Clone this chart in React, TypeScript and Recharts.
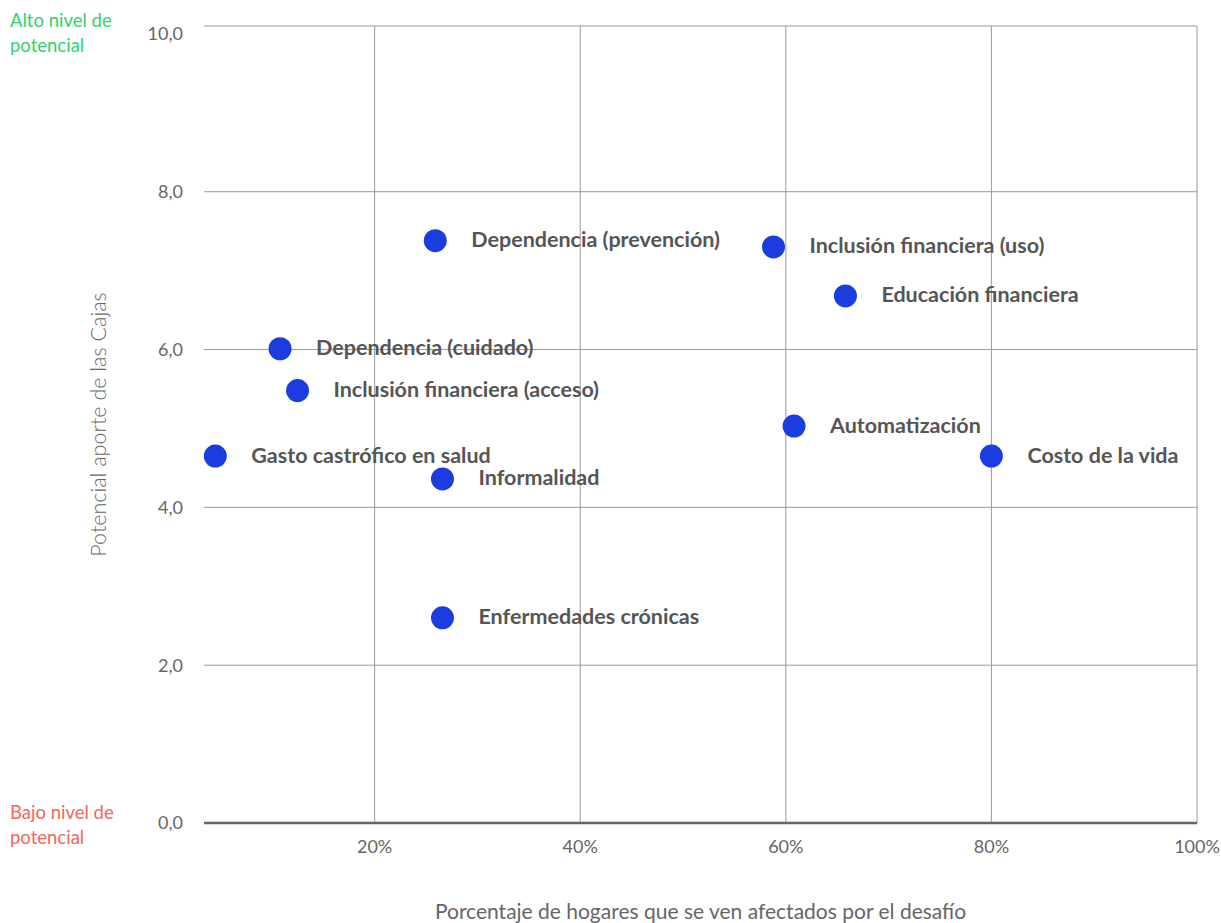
import React from 'react';
import { ScatterChart, Scatter, XAxis, YAxis, CartesianGrid, Label } from 'recharts';

const names = [
  'Gasto castrófico en salud',
  'Dependencia (cuidado)',
  'Inclusión financiera (acceso)',
  'Dependencia (prevención)',
  'Informalidad',
  'Enfermedades crónicas',
  'Inclusión financiera (uso)',
  'Educación financiera',
  'Automatización',
  'Costo de la vida',
];
const xValues = [4.5, 10.8, 12.5, 25.9, 26.6, 26.6, 58.8, 65.8, 60.8, 80.0];
const yValues = [4.65, 6.01, 5.48, 7.38, 4.36, 2.6, 7.3, 6.68, 5.03, 4.65];
const xTicks = [20, 40, 60, 80, 100];
const yTicks = [0, 2, 4, 6, 8, 10];
const yGridTicks = [0, 2, 4, 6, 8];
const xDomain = [3.4, 100];
const yDomain = [0, 10.1];

const xTitle = 'Porcentaje de hogares que se ven afectados por el desafío';
const yTitle = 'Potencial aporte de las Cajas';
const highLabel = ['Alto nivel de', 'potencial'];
const lowLabel = ['Bajo nivel de', 'potencial'];

const data = names.map((name, i) => ({ name, x: xValues[i], y: yValues[i] }));

const FONT = 'Lato, "Open Sans", sans-serif';

const Dot = (props: any) => {
  const { cx, cy, payload } = props;
  return (
    <g>
      <circle cx={cx} cy={cy} r={11.5} fill="#1b3de0" />
      <text
        x={cx + 36}
        y={cy}
        dy="0.3em"
        fontSize={21.5}
        fontWeight={700}
        fill="#555555"
        fontFamily={FONT}
      >
        {payload.name}
      </text>
    </g>
  );
};

const YTitle = (props: any) => {
  const vb = props.viewBox || { x: 0, y: 0, width: 204, height: 800 };
  const cx = vb.x + 98;
  const cy = vb.y + vb.height / 2;
  return (
    <text
      x={cx}
      y={cy}
      transform={`rotate(-90 ${cx} ${cy})`}
      textAnchor="middle"
      dominantBaseline="central"
      fontSize={21.5}
      fill="#666666"
      fontFamily={FONT}
      fontWeight={300}
    >
      {yTitle}
    </text>
  );
};

const verticalGen = (props: any) => {
  const { xAxis, offset } = props;
  if (xAxis && typeof xAxis.scale === 'function') {
    return xTicks.map((t) => xAxis.scale(t));
  }
  return xTicks.map(
    (t) => offset.left + ((t - xDomain[0]) / (xDomain[1] - xDomain[0])) * offset.width
  );
};

const horizontalGen = (props: any) => {
  const { yAxis, offset } = props;
  let pts: number[];
  if (yAxis && typeof yAxis.scale === 'function') {
    pts = yGridTicks.map((t) => yAxis.scale(t));
  } else {
    pts = yGridTicks.map(
      (t) => offset.top + (1 - (t - yDomain[0]) / (yDomain[1] - yDomain[0])) * offset.height
    );
  }
  return [offset.top, ...pts];
};

export default function App() {
  return (
    <div style={{ position: 'absolute', left: 0, top: 0, width: 1221, height: 923, background: '#fff', fontFamily: FONT }}>
      <div style={{ position: 'absolute', left: 10, top: 8, color: '#2fd36b', fontSize: 18.5, lineHeight: '25px' }}>
        {highLabel.map((t) => (
          <div key={t}>{t}</div>
        ))}
      </div>
      <div style={{ position: 'absolute', left: 10, top: 800, color: '#f4655b', fontSize: 18.5, lineHeight: '25px' }}>
        {lowLabel.map((t) => (
          <div key={t}>{t}</div>
        ))}
      </div>
      <ScatterChart width={1221} height={923} margin={{ top: 26, right: 24, left: 0, bottom: 0 }}>
        <CartesianGrid
          stroke="#9a9a9a"
          strokeWidth={1}
          verticalCoordinatesGenerator={verticalGen}
          horizontalCoordinatesGenerator={horizontalGen}
        />
        <XAxis
          type="number"
          dataKey="x"
          domain={xDomain}
          ticks={xTicks}
          allowDataOverflow
          height={100}
          tickFormatter={(v: number) => `${v}%`}
          tick={{ fill: '#666666', fontSize: 18, fontFamily: FONT }}
          tickLine={false}
          tickSize={6}
          tickMargin={11}
          axisLine={{ stroke: '#666666', strokeWidth: 2.5 }}
        >
          <Label
            value={xTitle}
            position="insideBottom"
            offset={4}
            style={{ fill: '#666666', fontSize: 21, fontFamily: FONT }}
          />
        </XAxis>
        <YAxis
          type="number"
          dataKey="y"
          domain={yDomain}
          ticks={yTicks}
          allowDataOverflow
          width={204}
          tickFormatter={(v: number) => v.toFixed(1).replace('.', ',')}
          tick={{ fill: '#666666', fontSize: 18, fontFamily: FONT }}
          tickLine={false}
          tickSize={6}
          tickMargin={15}
          axisLine={false}
        >
          <Label content={<YTitle />} />
        </YAxis>
        <Scatter data={data} shape={<Dot />} isAnimationActive={false} />
      </ScatterChart>
    </div>
  );
}
